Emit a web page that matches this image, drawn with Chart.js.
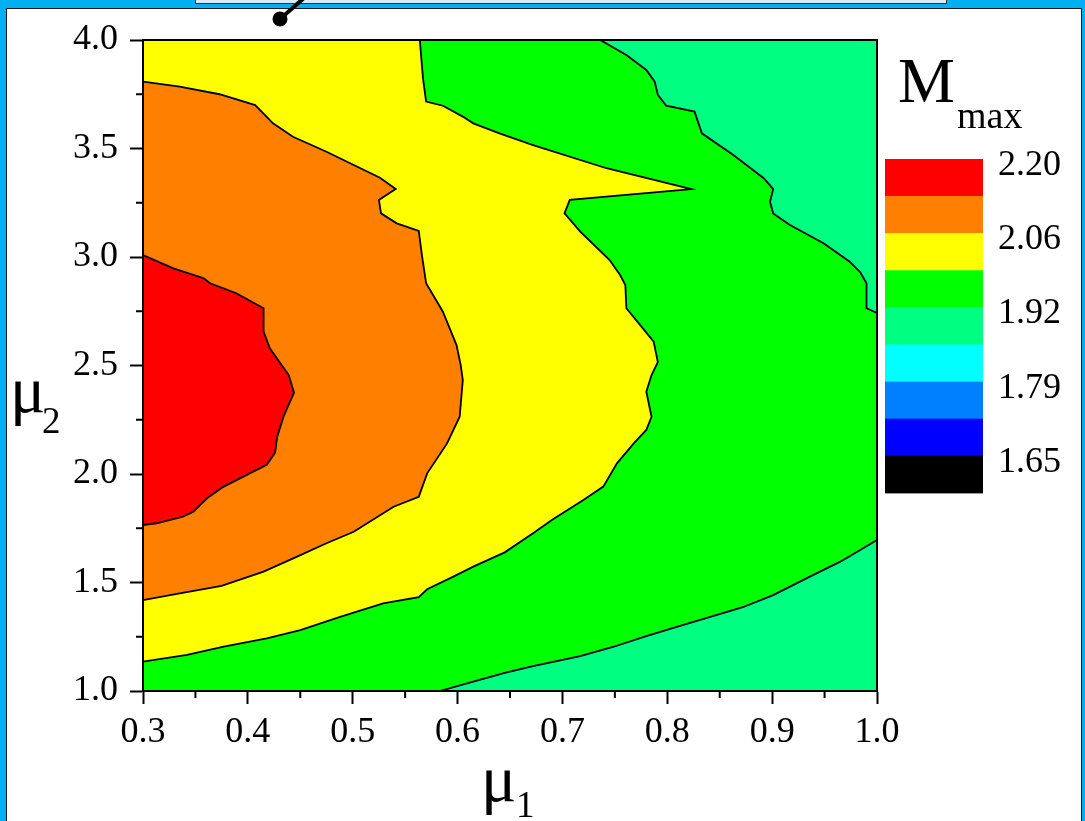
<!DOCTYPE html>
<html>
<head>
<meta charset="utf-8">
<script src="https://cdn.jsdelivr.net/npm/chart.js@4.4.1/dist/chart.umd.min.js"></script>
<style>
  body { margin: 0; background: #00b0f0; width: 1085px; height: 821px; overflow: hidden; position: relative; }
  #panel { position: absolute; left: 6px; top: 8px; width: 1074px; height: 830px; background: #fff; border: 1px solid #1a1a1a; }
  #topbox { position: absolute; left: 195px; top: -10px; width: 750px; height: 12px; background: #d9ecf5; border: 1px solid #333; }
  #pointer { position: absolute; left: 0; top: 0; }
  #wrap { position: absolute; left: 0; top: 0; width: 1085px; height: 821px; }
</style>
</head>
<body>
<div id="panel"></div>
<div id="topbox"></div>
<svg id="pointer" width="400" height="40">
  <line x1="304" y1="-2" x2="280" y2="19" stroke="#000" stroke-width="4"/>
  <circle cx="280" cy="19" r="7.5" fill="#000"/>
</svg>
<div id="wrap"><canvas id="chart" width="1085" height="821"></canvas></div>
<script>
// axis ranges and ticks
const xRange = [0.3, 1.0];
const yRange = [1.0, 4.0];
const minorX = [0.35, 0.45, 0.55, 0.65, 0.75, 0.85, 0.95];
const minorY = [1.25, 1.75, 2.25, 2.75, 3.25, 3.75];

// colour scale (top to bottom) and its labels
const levelColors = ['#ff0000', '#ff8000', '#ffff00', '#00ff00', '#00ff80', '#00ffff', '#0080ff', '#0000ff', '#000000'];
const levelLabels = ['2.20', '2.06', '1.92', '1.79', '1.65'];

// contour edges, [mu1, mu2]
const redEdge = [
  [0.300, 3.009], [0.329, 2.948], [0.358, 2.902], [0.364, 2.879], [0.389, 2.833], [0.415, 2.764],
  [0.415, 2.656], [0.421, 2.579], [0.431, 2.510], [0.439, 2.456], [0.444, 2.375], [0.434, 2.264],
  [0.428, 2.172], [0.426, 2.098], [0.418, 2.042], [0.377, 1.942], [0.361, 1.888], [0.348, 1.826],
  [0.338, 1.803], [0.313, 1.773], [0.300, 1.765]
];
const orangeEdge = [
  [0.300, 3.808], [0.335, 3.785], [0.373, 3.750], [0.407, 3.700], [0.424, 3.616], [0.443, 3.554],
  [0.475, 3.485], [0.526, 3.365], [0.541, 3.313], [0.525, 3.263], [0.527, 3.201], [0.542, 3.155],
  [0.563, 3.120], [0.566, 3.009], [0.570, 2.879], [0.586, 2.748], [0.599, 2.594], [0.603, 2.502],
  [0.605, 2.433], [0.602, 2.264], [0.590, 2.141], [0.571, 2.003], [0.563, 1.895], [0.539, 1.849],
  [0.501, 1.734], [0.475, 1.681], [0.447, 1.619], [0.415, 1.550], [0.375, 1.484], [0.335, 1.450],
  [0.300, 1.419]
];
const yellowEdge = [
  [0.564, 4.000], [0.567, 3.824], [0.570, 3.716], [0.586, 3.697], [0.605, 3.647], [0.615, 3.616],
  [0.640, 3.570], [0.672, 3.516], [0.742, 3.409], [0.823, 3.313], [0.707, 3.263], [0.702, 3.201],
  [0.717, 3.117], [0.745, 2.986], [0.755, 2.917], [0.760, 2.871], [0.761, 2.764], [0.774, 2.687],
  [0.787, 2.610], [0.791, 2.516], [0.785, 2.456], [0.780, 2.379], [0.785, 2.264], [0.780, 2.203],
  [0.768, 2.141], [0.752, 2.049], [0.739, 1.942], [0.720, 1.880], [0.691, 1.791], [0.672, 1.727],
  [0.645, 1.639], [0.615, 1.573], [0.596, 1.527], [0.571, 1.469], [0.563, 1.432], [0.529, 1.404],
  [0.488, 1.342], [0.450, 1.281], [0.418, 1.243], [0.377, 1.204], [0.342, 1.166], [0.300, 1.135]
];
const greenEdge = [
  [0.736, 4.000], [0.761, 3.931], [0.780, 3.862], [0.788, 3.808], [0.791, 3.747], [0.799, 3.697],
  [0.826, 3.670], [0.833, 3.570], [0.863, 3.470], [0.892, 3.363], [0.901, 3.313], [0.898, 3.255],
  [0.901, 3.201], [0.917, 3.147], [0.949, 3.063], [0.974, 2.978], [0.984, 2.930], [0.990, 2.879],
  [0.990, 2.764], [1.000, 2.742], [1.000, 1.696], [0.984, 1.650], [0.965, 1.596], [0.936, 1.527],
  [0.901, 1.442], [0.872, 1.386], [0.841, 1.342], [0.809, 1.296], [0.780, 1.253], [0.749, 1.204],
  [0.717, 1.161], [0.672, 1.115], [0.645, 1.083], [0.615, 1.043], [0.583, 1.000]
];
const plotBox = [[0.3, 1.0], [1.0, 1.0], [1.0, 4.0], [0.3, 4.0], [0.3, 1.0]];

const serif = '"Liberation Serif", "Times New Roman", serif';

function toPoints(list) {
  return list.map(p => ({ x: p[0], y: p[1] }));
}

// one filled contour band
function region(list, color, order, line) {
  return {
    data: toPoints(list),
    showLine: true,
    fill: 'shape',
    backgroundColor: color,
    borderColor: '#000',
    borderWidth: line,
    pointRadius: 0,
    pointHoverRadius: 0,
    tension: 0,
    order: order
  };
}

const closed = (list) => list.concat([list[0]]);

const datasets = [
  region(closed(redEdge), levelColors[0], 1, 1.8),
  region(closed(orangeEdge), levelColors[1], 2, 1.8),
  region(closed([[0.3, 4.0]].concat(yellowEdge)), levelColors[2], 3, 1.8),
  region(closed([[0.3, 4.0]].concat(greenEdge, [[0.3, 1.0]])), levelColors[3], 4, 1.8),
  region(plotBox, levelColors[4], 5, 0)
];

// frame, minor ticks, titles and colour bar
const decorations = {
  id: 'decorations',
  afterDatasetsDraw(chart) {
    const { ctx, chartArea: a, scales: { x, y } } = chart;
    ctx.save();
    ctx.strokeStyle = '#000';
    ctx.lineWidth = 2;
    ctx.strokeRect(a.left, a.top, a.right - a.left, a.bottom - a.top);
    ctx.beginPath();
    minorX.forEach(v => {
      const px = x.getPixelForValue(v);
      ctx.moveTo(px, a.bottom);
      ctx.lineTo(px, a.bottom + 7);
    });
    minorY.forEach(v => {
      const py = y.getPixelForValue(v);
      ctx.moveTo(a.left, py);
      ctx.lineTo(a.left - 7, py);
    });
    ctx.stroke();
    ctx.restore();
  },
  afterDraw(chart) {
    const ctx = chart.ctx;
    ctx.save();
    ctx.fillStyle = '#000';
    ctx.textBaseline = 'alphabetic';
    ctx.textAlign = 'left';

    // axis titles
    ctx.font = '66px ' + serif;
    ctx.fillText('\u03bc', 481, 801);
    ctx.fillText('\u03bc', 10, 412);
    ctx.font = '37px ' + serif;
    ctx.fillText('1', 516, 817);
    ctx.fillText('2', 42, 433);

    // colour bar title
    ctx.font = '64px ' + serif;
    ctx.fillText('M', 898, 102);
    ctx.font = '38px ' + serif;
    ctx.fillText('max', 957, 128);

    // colour bar
    const top = 159, h = 37.1, left = 885, w = 98;
    levelColors.forEach((c, i) => {
      ctx.fillStyle = c;
      ctx.fillRect(left, top + i * h, w, h + 0.5);
    });
    ctx.fillStyle = '#000';
    ctx.font = '36px ' + serif;
    levelLabels.forEach((t, i) => {
      ctx.fillText(t, 998, top + i * 2 * h + 16);
    });
    ctx.restore();
  }
};

const tickFont = { family: serif, size: 36 };

new Chart(document.getElementById('chart'), {
  type: 'scatter',
  data: { datasets: datasets },
  options: {
    responsive: false,
    animation: false,
    layout: { padding: { left: 43, top: 40, right: 208, bottom: 70 } },
    plugins: { legend: { display: false }, tooltip: { enabled: false } },
    scales: {
      x: {
        type: 'linear',
        min: xRange[0],
        max: xRange[1],
        afterFit: (s) => { s.height = 60; },
        ticks: { stepSize: 0.1, padding: 7, color: '#000', font: tickFont, callback: (v) => v.toFixed(1) },
        grid: { drawOnChartArea: false, tickLength: 13, tickWidth: 2, tickColor: '#000' },
        border: { display: true, color: '#000', width: 2 }
      },
      y: {
        type: 'linear',
        min: yRange[0],
        max: yRange[1],
        afterFit: (s) => { s.width = 100; },
        ticks: { stepSize: 0.5, padding: 12, color: '#000', font: tickFont, callback: (v) => v.toFixed(1) },
        grid: { drawOnChartArea: false, tickLength: 13, tickWidth: 2, tickColor: '#000' },
        border: { display: true, color: '#000', width: 2 }
      }
    }
  },
  plugins: [decorations]
});
</script>
</body>
</html>
